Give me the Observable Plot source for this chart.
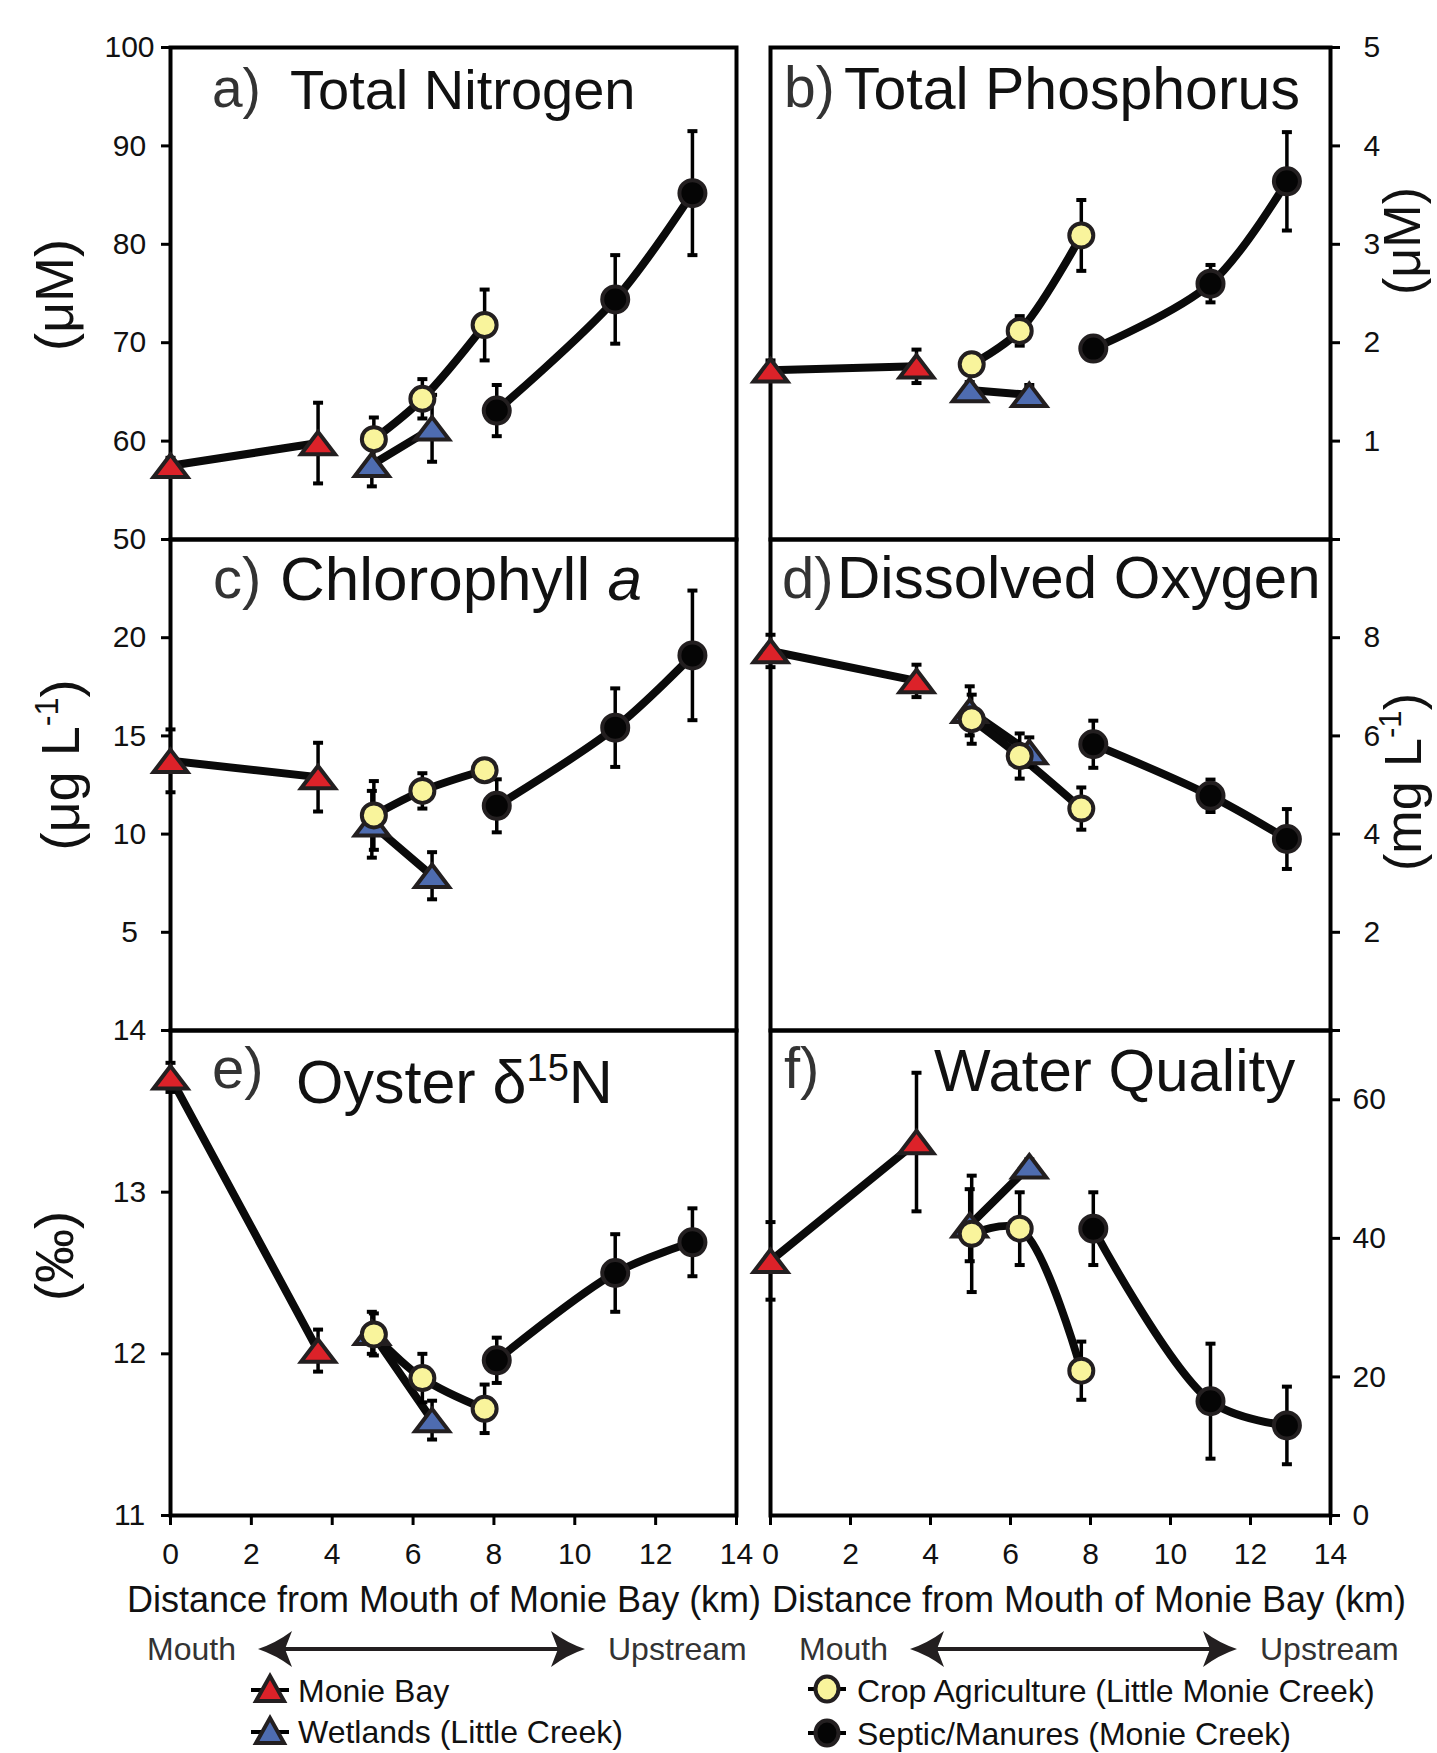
<!DOCTYPE html>
<html>
<head>
<meta charset="utf-8">
<script src="https://cdn.jsdelivr.net/npm/d3@7"></script>
<script src="https://cdn.jsdelivr.net/npm/@observablehq/plot@0.6"></script>
<style>
  html, body { margin: 0; padding: 0; background: #fff; }
  #fig { position: relative; width: 1437px; height: 1753px; overflow: hidden; background: #fff; }
  #fig svg { position: absolute; left: 0; overflow: visible; }
</style>
</head>
<body>
<div id="fig"></div>
<script>
const FONT = '"Liberation Sans", Arial, Helvetica, sans-serif';

// ---------- data ----------
// distance from mouth of Monie Bay (km) for each site group
const distMonie = [0, 3.65];
const distWetlands = [4.98, 6.47];
const distCrop = [5.03, 6.23, 7.77];
const distSeptic = [8.07, 11.0, 12.91];

const siteNames = ["Monie Bay", "Wetlands (Little Creek)", "Crop Agriculture (Little Monie Creek)", "Septic/Manures (Monie Creek)"];

// a) Total Nitrogen (µM)
const tnMonie = [57.5, 59.8];        const tnMonieErr = [0.8, 4.1];
const tnWetlands = [57.6, 61.3];     const tnWetlandsErr = [2.2, 3.4];
const tnCrop = [60.2, 64.3, 71.8];   const tnCropErr = [2.2, 2.0, 3.6];
const tnSeptic = [63.1, 74.4, 85.2]; const tnSepticErr = [2.6, 4.5, 6.3];

// b) Total Phosphorus (µM)
const tpMonie = [1.72, 1.76];        const tpMonieErr = [0.1, 0.17];
const tpWetlands = [1.52, 1.47];     const tpWetlandsErr = [0.08, 0.1];
const tpCrop = [1.78, 2.12, 3.09];   const tpCropErr = [0.1, 0.15, 0.36];
const tpSeptic = [1.94, 2.60, 3.64]; const tpSepticErr = [0.05, 0.19, 0.5];

// c) Chlorophyll a (µg L-1)
const chlMonie = [13.73, 12.9];        const chlMonieErr = [1.6, 1.75];
const chlWetlands = [10.5, 7.88];      const chlWetlandsErr = [1.7, 1.2];
const chlCrop = [10.95, 12.2, 13.25];  const chlCropErr = [1.75, 0.9, 0.4];
const chlSeptic = [11.44, 15.42, 19.1]; const chlSepticErr = [1.35, 2.0, 3.3];

// d) Dissolved Oxygen (mg L-1)
const doMonie = [7.73, 7.12];        const doMonieErr = [0.33, 0.33];
const doWetlands = [6.51, 5.67];     const doWetlandsErr = [0.5, 0.3];
const doCrop = [6.34, 5.59, 4.52];   const doCropErr = [0.5, 0.46, 0.43];
const doSeptic = [5.83, 4.78, 3.9];  const doSepticErr = [0.48, 0.33, 0.61];

// e) Oyster d15N (permil)
const dnMonie = [13.71, 12.02];        const dnMonieErr = [0.09, 0.13];
const dnWetlands = [12.13, 11.59];     const dnWetlandsErr = [0.13, 0.12];
const dnCrop = [12.12, 11.85, 11.66];  const dnCropErr = [0.13, 0.15, 0.15];
const dnSeptic = [11.96, 12.5, 12.69]; const dnSepticErr = [0.14, 0.24, 0.21];

// f) Water Quality
const wqMonie = [36.75, 53.9];        const wqMonieErr = [5.6, 10];
const wqWetlands = [41.9, 50.4];      const wqWetlandsErr = [5.2, 1];
const wqCrop = [40.65, 41.4, 20.9];   const wqCropErr = [8.4, 5.25, 4.2];
const wqSeptic = [41.4, 16.5, 13.0];  const wqSepticErr = [5.25, 8.3, 5.6];

// tick values
const distTicks = [0, 2, 4, 6, 8, 10, 12, 14];
const tnTicks = [50, 60, 70, 80, 90, 100];
const tpTicks = [0, 1, 2, 3, 4, 5];
const chlTicks = [5, 10, 15, 20];
const doTicks = [0, 2, 4, 6, 8, 10];
const dnTicks = [11, 12, 13, 14];
const wqTicks = [0, 20, 40, 60];

// ---------- styling ----------
const colors = { monie: "#dc2229", wetlands: "#4e6cb0", crop: "#f9f49c", septic: "#050505", edge: "#231f20" };

const wideTri = {
  draw(ctx, size) {
    const r = Math.sqrt(size / Math.PI);
    const hw = r, h = r * 1.32;
    ctx.moveTo(0, -h / 2);
    ctx.lineTo(hw, h / 2);
    ctx.lineTo(-hw, h / 2);
    ctx.closePath();
  }
};
const capSym = {
  draw(ctx, size) {
    const r = Math.sqrt(size / Math.PI);
    ctx.moveTo(-r, 0);
    ctx.lineTo(r, 0);
  }
};

const markerStyles = [
  { symbol: wideTri, r: 17, fill: colors.monie },
  { symbol: wideTri, r: 17, fill: colors.wetlands },
  { symbol: "circle", r: 12, fill: colors.crop },
  { symbol: "circle", r: 13, fill: colors.septic }
];

function rowsOf(dist, vals, errs, site) {
  return dist.map((d, i) => ({ site, d, v: vals[i], e: errs[i] }));
}

const cols = [[170, 736], [770, 1330]];
const rowsPx = [[47, 539], [539, 1030], [1030, 1515]];

const panels = [
  { col: 0, row: 0, domain: [50, 100], ticks: tnTicks, hide: [],
    series: [[distMonie, tnMonie, tnMonieErr], [distWetlands, tnWetlands, tnWetlandsErr], [distCrop, tnCrop, tnCropErr], [distSeptic, tnSeptic, tnSepticErr]] },
  { col: 1, row: 0, domain: [0, 5], ticks: tpTicks, hide: [0], pad: 24,
    series: [[distMonie, tpMonie, tpMonieErr], [distWetlands, tpWetlands, tpWetlandsErr], [distCrop, tpCrop, tpCropErr], [distSeptic, tpSeptic, tpSepticErr]] },
  { col: 0, row: 1, domain: [0, 25], ticks: chlTicks, hide: [],
    series: [[distMonie, chlMonie, chlMonieErr], [distWetlands, chlWetlands, chlWetlandsErr], [distCrop, chlCrop, chlCropErr], [distSeptic, chlSeptic, chlSepticErr]] },
  { col: 1, row: 1, domain: [0, 10], ticks: doTicks, hide: [0, 10], pad: 24,
    series: [[distMonie, doMonie, doMonieErr], [distWetlands, doWetlands, doWetlandsErr], [distCrop, doCrop, doCropErr], [distSeptic, doSeptic, doSepticErr]] },
  { col: 0, row: 2, domain: [11, 14], ticks: dnTicks, hide: [],
    series: [[distMonie, dnMonie, dnMonieErr], [distWetlands, dnWetlands, dnWetlandsErr], [distCrop, dnCrop, dnCropErr], [distSeptic, dnSeptic, dnSepticErr]] },
  { col: 1, row: 2, domain: [0, 70], ticks: wqTicks, hide: [], pad: 13,
    series: [[distMonie, wqMonie, wqMonieErr], [distWetlands, wqWetlands, wqWetlandsErr], [distCrop, wqCrop, wqCropErr], [distSeptic, wqSeptic, wqSepticErr]] }
];

const fig = document.getElementById("fig");

for (const p of panels) {
  const [x0, x1] = cols[p.col];
  const [y0, y1] = rowsPx[p.row];
  const padT = 40, padB = p.row === 2 ? 90 : 40;
  const groups = p.series.map((s, i) => rowsOf(s[0], s[1], s[2], siteNames[i]));
  const all = groups.flat();
  const left = p.col === 0;
  const marks = [
    Plot.frame({ stroke: "#000", strokeWidth: 4 }),
    Plot.axisY({
      anchor: left ? "left" : "right",
      ticks: p.ticks,
      tickSize: 9,
      tickPadding: left ? 32 : p.pad,
      textAnchor: left ? "middle" : "start",
      tickFormat: (d) => (p.hide.includes(d) ? "" : String(d)),
      stroke: "#000",
      strokeWidth: 3,
      fill: "#111",
      fontSize: 30,
      label: null
    })
  ];
  if (p.row === 2) {
    marks.push(Plot.axisX({
      anchor: "bottom",
      ticks: distTicks,
      tickSize: 10,
      tickPadding: 17,
      stroke: "#000",
      strokeWidth: 3,
      fill: "#111",
      fontSize: 30,
      label: null
    }));
  }
  marks.push(
    Plot.line(all, { x: "d", y: "v", z: "site", curve: "catmull-rom", stroke: "#0a0a0a", strokeWidth: 8, strokeLinejoin: "round" }),
    Plot.ruleX(all, { x: "d", y1: (d) => d.v - d.e, y2: (d) => d.v + d.e, stroke: "#000", strokeWidth: 3.5 }),
    Plot.dot(all, { x: "d", y: (d) => d.v + d.e, symbol: capSym, r: 5, fill: "none", stroke: "#000", strokeWidth: 4 }),
    Plot.dot(all, { x: "d", y: (d) => d.v - d.e, symbol: capSym, r: 5, fill: "none", stroke: "#000", strokeWidth: 4 })
  );
  groups.forEach((g, i) => {
    const m = markerStyles[i];
    marks.push(Plot.dot(g, { x: "d", y: "v", symbol: m.symbol, r: m.r, fill: m.fill, stroke: colors.edge, strokeWidth: 4, strokeLinejoin: "miter" }));
  });
  const svg = Plot.plot({
    width: 1437,
    height: (y1 - y0) + padT + padB,
    marginLeft: x0,
    marginRight: 1437 - x1,
    marginTop: padT,
    marginBottom: padB,
    style: { background: "transparent", fontFamily: FONT, overflow: "visible", color: "#111" },
    x: { domain: [0, 14], axis: null },
    y: { domain: p.domain, axis: null },
    marks
  });
  svg.style.top = (y0 - padT) + "px";
  svg.style.maxWidth = "none";
  fig.appendChild(svg);
}

// ---------- annotation overlay ----------
const ov = d3.select(fig).append("svg")
  .attr("width", 1437).attr("height", 1753)
  .style("top", "0px").style("pointer-events", "none")
  .attr("font-family", FONT);

function label(x, y, str, size, fill = "#111", anchor = "start") {
  return ov.append("text").attr("x", x).attr("y", y).attr("font-size", size)
    .attr("fill", fill).attr("text-anchor", anchor).text(str);
}

// panel titles
label(212, 107, "a)", 55, "#333");
label(290, 109, "Total Nitrogen", 56);
label(784, 107, "b)", 57, "#333");
label(844, 109, "Total Phosphorus", 59);
label(213, 598, "c)", 58, "#333");
{
  const t = label(280, 600, "Chlorophyll ", 62);
  t.append("tspan").attr("font-style", "italic").text("a");
}
label(782, 598, "d)", 58, "#333");
label(837, 598, "Dissolved Oxygen", 60);
label(212, 1088, "e)", 58, "#333");
{
  const t = label(296, 1103, "Oyster δ", 61);
  t.append("tspan").attr("font-size", 38).attr("dy", -22).text("15");
  t.append("tspan").attr("dy", 22).text("N");
}
label(784, 1088, "f)", 58, "#333");
label(934, 1091, "Water Quality", 60);

// y-axis titles
function ytitle(x, y, parts, size) {
  const t = ov.append("text").attr("transform", `translate(${x},${y}) rotate(-90)`)
    .attr("font-size", size).attr("fill", "#111").attr("text-anchor", "middle");
  for (const p of parts) {
    const s = t.append("tspan").text(p.t);
    if (p.sup) s.attr("font-size", size * 0.6).attr("dy", -size * 0.38);
    if (p.down) s.attr("dy", size * 0.38);
  }
  return t;
}
ytitle(73, 295, [{ t: "(μM)" }], 54);
ytitle(79, 765, [{ t: "(μg L" }, { t: "-1", sup: true }, { t: ")", down: true }], 54);
ytitle(73, 1256, [{ t: "(‰)" }], 54);
ytitle(1420, 241, [{ t: "(μM)" }], 52);
ytitle(1421, 782, [{ t: "(mg L" }, { t: "-1", sup: true }, { t: ")", down: true }], 52);

// x-axis titles
label(444, 1612, "Distance from Mouth of Monie Bay (km)", 36, "#111", "middle");
label(1089, 1612, "Distance from Mouth of Monie Bay (km)", 36, "#111", "middle");

// Mouth <-> Upstream arrows
for (const off of [0, 652]) {
  label(147 + off, 1660, "Mouth", 32, "#333");
  label(608 + off, 1660, "Upstream", 32, "#333");
  const g = ov.append("g").attr("transform", `translate(${off},0)`);
  g.append("line").attr("x1", 280).attr("x2", 563).attr("y1", 1649).attr("y2", 1649)
    .attr("stroke", "#231f20").attr("stroke-width", 4);
  g.append("path").attr("d", "M258,1649 Q276,1643 292,1631 L285,1649 L292,1667 Q276,1655 258,1649Z").attr("fill", "#231f20");
  g.append("path").attr("d", "M585,1649 Q567,1643 551,1631 L558,1649 L551,1667 Q567,1655 585,1649Z").attr("fill", "#231f20");
}

// legend
function legTri(cx, cy, fill) {
  ov.append("line").attr("x1", cx - 19).attr("x2", cx + 19).attr("y1", cy + 1).attr("y2", cy + 1)
    .attr("stroke", "#000").attr("stroke-width", 4);
  ov.append("path").attr("d", `M${cx},${cy - 13} L${cx + 14},${cy + 12} L${cx - 14},${cy + 12}Z`)
    .attr("fill", fill).attr("stroke", colors.edge).attr("stroke-width", 4);
}
function legCirc(cx, cy, fill) {
  ov.append("line").attr("x1", cx - 19).attr("x2", cx + 19).attr("y1", cy).attr("y2", cy)
    .attr("stroke", "#000").attr("stroke-width", 4);
  ov.append("ellipse").attr("cx", cx).attr("cy", cy).attr("rx", 11.5).attr("ry", 12.5)
    .attr("fill", fill).attr("stroke", colors.edge).attr("stroke-width", 4);
}
legTri(270, 1689, colors.monie);
label(298, 1702, siteNames[0], 32);
legTri(270, 1731, colors.wetlands);
label(298, 1743, siteNames[1], 32);
legCirc(827, 1689, colors.crop);
label(857, 1702, siteNames[2], 32);
legCirc(827, 1733, colors.septic);
label(857, 1745, siteNames[3], 32);
</script>
</body>
</html>
